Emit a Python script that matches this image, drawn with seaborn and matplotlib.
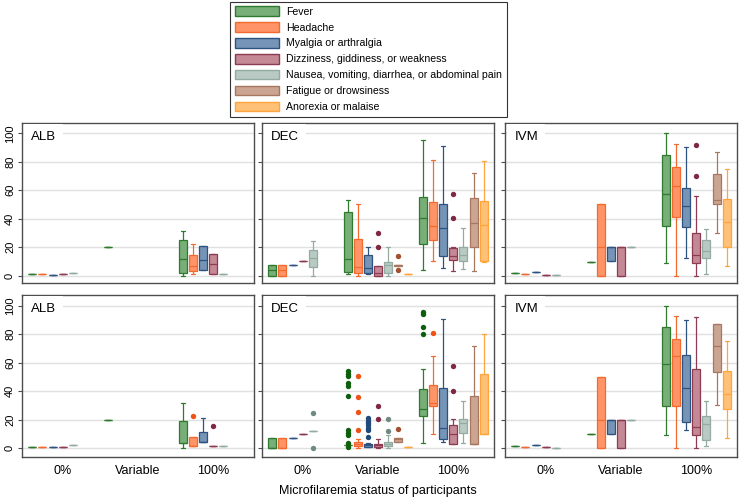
import numpy as np
import pandas as pd
import matplotlib.pyplot as plt
import seaborn as sns
from matplotlib.patches import Patch

sns.set_theme(style="white", rc={"text.color": "black", "xtick.color": "black", "ytick.color": "black"})
plt.rcParams["font.family"] = ["Liberation Sans", "DejaVu Sans"]

SYMPTOMS = [
    "Fever",
    "Headache",
    "Myalgia or arthralgia",
    "Dizziness, giddiness, or weakness",
    "Nausea, vomiting, diarrhea, or abdominal pain",
    "Fatigue or drowsiness",
    "Anorexia or malaise",
]
GROUPS = ["0%", "Variable", "100%"]
ARMS = ["ALB", "DEC", "IVM"]

FILL = ["#78ae78", "#ff9468", "#7695b6", "#c38994", "#b8cac3", "#cba492", "#ffc077"]
EDGE = ["#2f7a2f", "#f26a2e", "#2e5380", "#8e3a52", "#93aba1", "#a87760", "#ffa53c"]
DOT = ["#0d5f0d", "#ee5316", "#1f4a7a", "#7e2843", "#6e8a81", "#a2502f", "#ff9a20"]

# Each entry: (low whisker, Q1, median, Q3, high whisker), a single value for a
# flat box, or None when the symptom was not reported. Order follows SYMPTOMS.
top_alb = {
    "0%": [1.0, 1.2, 0.6, 1.2, 2.0, None, None],
    "Variable": [20, None, None, None, None, None, None],
    "100%": [(0, 1.6, 11.5, 25, 31.6), (1.2, 3.5, 6.8, 14.8, 22), (3.7, 3.7, 11, 20.8, 20.8),
             (1.2, 1.2, 8.2, 15.2, 15.2), 1.2, None, None],
}
top_alb_out = {}

top_dec = {
    "0%": [(0, 0, 3.7, 7.5, 7.5), (0, 0, 3.7, 7.5, 7.5), 7.5, 10.3, (0, 6.1, 12.4, 18.4, 24.7), None, None],
    "Variable": [(0.9, 2.8, 11.4, 45, 53.4), (0, 2.1, 6.1, 25.6, 50.6), (1.2, 2.1, 5.6, 14.5, 20.3),
                 (0, 0, 2.1, 6.5, 6.5), (0, 1.6, 7.2, 9.3, 20.3), (6.8, 6.8, 7.2, 7.7, 7.7), 0.9],
    "100%": [(3.7, 22.6, 40.6, 55.5, 95.6), (10.3, 25.4, 34.7, 51.5, 81.4), (5.1, 14.2, 33.8, 50.3, 91.1),
             (3.3, 10.7, 13.8, 19.5, 20.3), (4.4, 10.5, 14.7, 20.3, 33.6), (3.3, 20.3, 37.3, 54.8, 72),
             (9.6, 10.3, 35.9, 52.7, 80.4)],
}
top_dec_out = {
    "Variable": [[], [], [], [20.3, 29.8], [], [4.2, 13.8], []],
    "100%": [[], [], [], [40.3, 57.6], [], [], []],
}

top_ivm = {
    "0%": [1.9, 0.9, 2.3, 0.7, 0.5, None, None],
    "Variable": [9.8, (0, 0, 20, 50, 50), (10, 10, 20, 20, 20), (0, 0, 20, 20, 20), 20, None, None],
    "100%": [(8.6, 34.8, 57.7, 85, 100), (0, 41.1, 63.1, 76.4, 92.8), (12.6, 33.9, 48.6, 61.4, 90.7),
             (0, 8.6, 14.5, 29.7, 55.8), (1.4, 12.1, 17.3, 24.8, 32.9), (29.9, 50, 53, 71.7, 86.9),
             (6.8, 19.9, 37.6, 54, 75)],
}
top_ivm_out = {"100%": [[], [], [], [70.1, 92], [], [], []]}

bot_alb = {
    "0%": [1.0, 1.2, 0.6, 1.2, 2.0, None, None],
    "Variable": [20, None, None, None, None, None, None],
    "100%": [(0.2, 3.9, 3.9, 19.1, 32), (1.4, 1.4, 1.4, 7.9, 7.9), (4.2, 4.2, 4.2, 11.2, 21.5),
             1.4, 1.4, None, None],
}
bot_alb_out = {"100%": [[], [22.4], [], [15.6], [], [], []]}

bot_dec = {
    "0%": [(0.2, 0.2, 0.2, 7.4, 7.4), (0.2, 0.2, 0.2, 7.4, 7.4), 7.4, 10.2, 12.1, None, None],
    "Variable": [2.3, (0.2, 1.6, 3.0, 4.7, 6.7), (1.2, 1.2, 2.0, 3.0, 4.0), (0.5, 0.7, 2.0, 3.0, 6.3),
                 (0.2, 1.6, 3.0, 4.4, 9.1), (4.4, 4.4, 6.3, 7.0, 7.0), 1.2],
    "100%": [(3.5, 22.6, 27.9, 41.6, 55.6), (10, 30, 31.9, 44.4, 64.9), (4.7, 6.7, 14, 42.1, 90.5),
             (3, 3, 10, 16.5, 20.2), (4, 10.5, 17.4, 20.2, 33.3), (3, 3, 3, 37, 71.4),
             (9.8, 9.8, 9.8, 52.3, 80)],
}
bot_dec_out = {
    "0%": [[], [], [], [], [0.2, 25], [], []],
    "Variable": [[0.8, 3.6, 9.3, 11, 12.8, 36.5, 44, 46, 50.5, 52.3, 54], [12.8, 25.5, 36.2, 50.6],
                 [7.7, 12.8, 14.5, 16, 17.5, 19, 21], [20.2, 29.5], [11.9, 20.2], [13.7], []],
    "100%": [[80, 85.3, 94.2, 95.8], [80.7], [], [40.2, 57.4], [], [], []],
}

bot_ivm = {
    "0%": [1.9, 0.9, 2.3, 0.7, 0.5, None, None],
    "Variable": [10, (0, 0, 20, 50, 50), (10, 10, 20, 20, 20), (0, 0, 20, 20, 20), 20, None, None],
    "100%": [(9.1, 29.8, 59.3, 85, 100), (0, 29.8, 64.4, 76.7, 93), (12.6, 18.6, 42.1, 65.1, 90.2),
             (0, 9.1, 14.9, 55.8, 92.1), (1.6, 5.6, 16.7, 23, 33.5), (30.2, 53.3, 71.6, 87, 87),
             (7, 27.7, 38.1, 54, 75.1)],
}
bot_ivm_out = {}

ROWS = [
    [(top_alb, top_alb_out), (top_dec, top_dec_out), (top_ivm, top_ivm_out)],
    [(bot_alb, bot_alb_out), (bot_dec, bot_dec_out), (bot_ivm, bot_ivm_out)],
]


def long_table(boxes):
    # five values per box reproduce whiskers, quartiles and median exactly
    rows = []
    for grp, entries in boxes.items():
        for sym, entry in zip(SYMPTOMS, entries):
            if entry is None:
                continue
            if np.isscalar(entry):
                entry = (entry,) * 5
            for v in entry:
                rows.append({"group": grp, "symptom": sym, "pct": v})
    return pd.DataFrame(rows)


WIDTH = 0.94
W, H = 740, 501
col_left = [22, 262, 505]
col_w = 232
row_box = [(123, 283), (295, 457)]
row_ylim = [(-5.1, 107.2), (-6.1, 107.5)]
fill_map = dict(zip(SYMPTOMS, FILL))

fig = plt.figure(figsize=(W / 100, H / 100), dpi=100)
for r, row in enumerate(ROWS):
    top, bottom = row_box[r]
    for c, (boxes, outs) in enumerate(row):
        ax = fig.add_axes([col_left[c] / W, 1 - bottom / H, col_w / W, (bottom - top) / H])
        df = long_table(boxes)
        for h, sym in enumerate(SYMPTOMS):
            sub = df[df["symptom"] == sym]
            if sub.empty:
                continue
            sns.boxplot(
                data=sub, x="group", y="pct", hue="symptom", order=GROUPS, hue_order=SYMPTOMS,
                palette=fill_map, dodge=True, width=WIDTH, gap=0.2, whis=np.inf, saturation=1,
                linecolor=EDGE[h], linewidth=0.9, legend=False, ax=ax,
            )
        for grp, lists in outs.items():
            gi = GROUPS.index(grp)
            for h, vals in enumerate(lists):
                if vals:
                    x = gi + (h - 3) * WIDTH / len(SYMPTOMS)
                    ax.scatter([x] * len(vals), vals, s=15, color=DOT[h], linewidths=0, zorder=3)

        ax.set_xlim(-0.54, 2.54)
        ax.set_ylim(*row_ylim[r])
        ax.set_yticks(range(0, 101, 20))
        ax.yaxis.grid(True, color="#e0e0e0", linewidth=1)
        ax.set_axisbelow(True)
        ax.set_xlabel("")
        ax.set_ylabel("")
        ax.tick_params(axis="x", length=0, labelsize=9, pad=6)
        ax.tick_params(axis="y", left=True, length=3, width=0.8, color="#4d4d4d", labelsize=8, pad=2)
        if r == 0:
            ax.set_xticklabels([])
        if c == 0:
            for lab in ax.get_yticklabels():
                lab.set_rotation(90)
                lab.set_va("center")
        else:
            ax.set_yticklabels([])
        for sp in ax.spines.values():
            sp.set_color("#4d4d4d")
            sp.set_linewidth(1)
        ax.text(0.04, 97.5, ARMS[c], transform=ax.get_yaxis_transform(), fontsize=9.5,
                ha="left", va="center", zorder=4,
                bbox=dict(facecolor="white", edgecolor="none", pad=5))

handles = [Patch(facecolor=f, edgecolor=e, linewidth=1) for f, e in zip(FILL, EDGE)]
leg = fig.legend(handles, SYMPTOMS, loc="upper center", bbox_to_anchor=(0.498, 0.997),
                 frameon=True, fancybox=False, edgecolor="black", fontsize=7.6,
                 handlelength=4.1, handleheight=1.0, labelspacing=0.53, borderpad=0.45,
                 handletextpad=0.7, borderaxespad=0)
leg.get_frame().set_linewidth(0.8)

fig.text(378 / W, 1 - 491 / H, "Microfilaremia status of participants", ha="center", va="center", fontsize=9)

fig.savefig("out.png", dpi=100)
